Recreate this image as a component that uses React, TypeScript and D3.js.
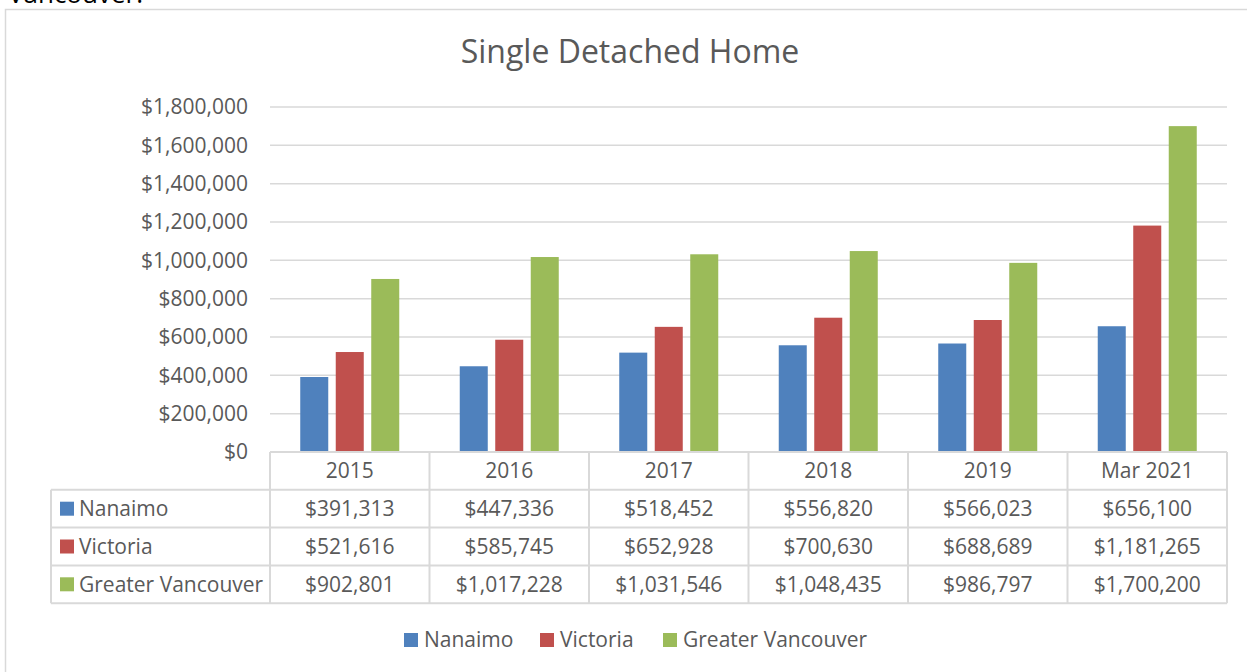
import React from "react";
import * as d3 from "d3";

const categories = ["2015", "2016", "2017", "2018", "2019", "Mar 2021"];
const seriesNames = ["Nanaimo", "Victoria", "Greater Vancouver"];
const nanaimo = [391313, 447336, 518452, 556820, 566023, 656100];
const victoria = [521616, 585745, 652928, 700630, 688689, 1181265];
const greaterVancouver = [902801, 1017228, 1031546, 1048435, 986797, 1700200];
const seriesValues = [nanaimo, victoria, greaterVancouver];
const colors = ["#4F81BD", "#C0504D", "#9BBB59"];
const yTicks = [0, 200000, 400000, 600000, 800000, 1000000, 1200000, 1400000, 1600000, 1800000];

const W = 1247;
const H = 672;
const FONT = "'Open Sans', sans-serif";
const TEXT = "#595959";
const GRID = "#D9D9D9";
const FS = 21;

export default function App() {
  const x0 = 270;
  const x1 = 1227;
  const yTop = 107;
  const yBase = 452;
  const rowH = 37.8;
  const tableLeft = 51;

  const x = d3.scaleBand<string>().domain(categories).range([x0, x1]).paddingInner(0).paddingOuter(0);
  const xs = d3
    .scaleBand<string>()
    .domain(seriesNames)
    .range([0, x.bandwidth()])
    .paddingInner(0.211)
    .paddingOuter(0.852);
  const y = d3.scaleLinear().domain([0, 1800000]).range([yBase, yTop]);
  const money = (v: number) => "$" + d3.format(",")(v);

  const rowsY = [0, 1, 2, 3, 4].map((i) => yBase + i * rowH);
  const colEdges = categories.map((c) => x(c) as number).concat([x1]);

  const legendItems = [
    { sq: 404, tx: 424 },
    { sq: 540, tx: 560 },
    { sq: 663, tx: 683 },
  ];

  return (
    <svg
      width={W}
      height={H}
      style={{ position: "fixed", left: 0, top: 0, background: "#fff" }}
      fontFamily={FONT}
    >
      <rect x={0} y={0} width={W} height={H} fill="#fff" />
      <text x={8} y={3} fontSize={26} fill="#000">
        Vancouver.
      </text>
      {/* frame */}
      <path d={`M5.5,${H + 2}V9.5H${W + 2}`} fill="none" stroke={GRID} strokeWidth={1.5} />
      {/* title */}
      <text x={630} y={63} fontSize={32} fill={TEXT} textAnchor="middle">
        Single Detached Home
      </text>
      {/* gridlines */}
      {yTicks.map((t) => (
        <line key={"g" + t} x1={x0} x2={x1} y1={y(t)} y2={y(t)} stroke={GRID} strokeWidth={1.5} />
      ))}
      {/* y tick labels */}
      {yTicks.map((t) => (
        <text
          key={"t" + t}
          x={248}
          y={y(t)}
          dy="0.35em"
          fontSize={FS}
          fill={TEXT}
          textAnchor="end"
        >
          {money(t)}
        </text>
      ))}
      {/* bars */}
      {seriesValues.map((vals, si) =>
        vals.map((v, ci) => (
          <rect
            key={`b${si}-${ci}`}
            x={(x(categories[ci]) as number) + (xs(seriesNames[si]) as number)}
            y={y(v)}
            width={xs.bandwidth()}
            height={yBase - y(v)}
            fill={colors[si]}
          />
        ))
      )}
      {/* table lines */}
      <g stroke={GRID} strokeWidth={2} fill="none">
        <line x1={x0} x2={x1} y1={rowsY[0]} y2={rowsY[0]} />
        {rowsY.slice(1).map((ry, i) => (
          <line key={"h" + i} x1={tableLeft} x2={x1} y1={ry} y2={ry} />
        ))}
        <line x1={tableLeft} x2={tableLeft} y1={rowsY[1]} y2={rowsY[4]} />
        {colEdges.map((cx, i) => (
          <line key={"v" + i} x1={cx} x2={cx} y1={rowsY[0]} y2={rowsY[4]} />
        ))}
      </g>
      {/* header labels */}
      {categories.map((c) => (
        <text
          key={"c" + c}
          x={(x(c) as number) + x.bandwidth() / 2}
          y={(rowsY[0] + rowsY[1]) / 2}
          dy="0.35em"
          fontSize={FS}
          fill={TEXT}
          textAnchor="middle"
        >
          {c}
        </text>
      ))}
      {/* data rows */}
      {seriesValues.map((vals, si) => {
        const cy = (rowsY[si + 1] + rowsY[si + 2]) / 2;
        return (
          <g key={"r" + si}>
            <rect x={60} y={cy - 7} width={14} height={14} fill={colors[si]} />
            <text x={79} y={cy} dy="0.35em" fontSize={FS} fill={TEXT}>
              {seriesNames[si]}
            </text>
            {vals.map((v, ci) => (
              <text
                key={"d" + ci}
                x={(x(categories[ci]) as number) + x.bandwidth() / 2}
                y={cy}
                dy="0.35em"
                fontSize={FS}
                fill={TEXT}
                textAnchor="middle"
              >
                {money(v)}
              </text>
            ))}
          </g>
        );
      })}
      {/* legend */}
      {seriesNames.map((n, i) => (
        <g key={"l" + n}>
          <rect x={legendItems[i].sq} y={633} width={14} height={14} fill={colors[i]} />
          <text x={legendItems[i].tx} y={640} dy="0.35em" fontSize={FS} fill={TEXT}>
            {n}
          </text>
        </g>
      ))}
    </svg>
  );
}
